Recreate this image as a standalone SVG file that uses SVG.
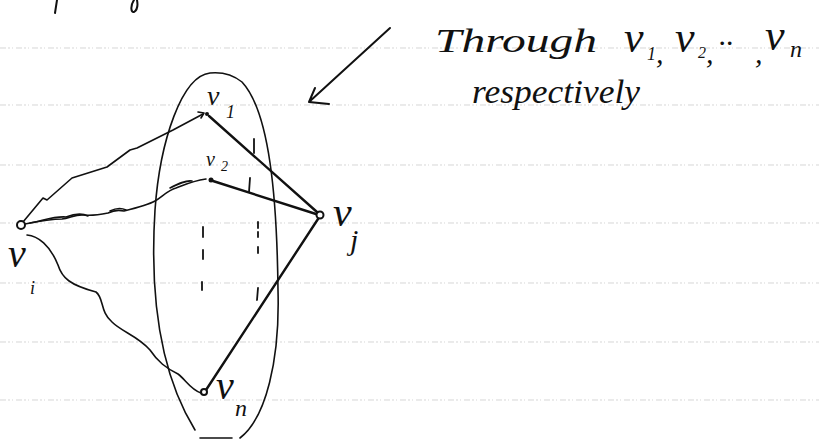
<svg xmlns="http://www.w3.org/2000/svg" width="819" height="441" viewBox="0 0 819 441">
<style>
.rule{stroke:#c4c4c4;stroke-width:0.7;stroke-dasharray:6 2 2 2 1 3;fill:none}
.ink{stroke:#111;fill:none;stroke-linecap:round;stroke-linejoin:round}
.edge{stroke-width:2.4}
.curve{stroke-width:1.6}
.hw{font-family:"Liberation Serif",serif;font-style:italic;fill:#111}
.node{fill:#fff;stroke:#111;stroke-width:2}
</style>
<rect width="819" height="441" fill="#fff"/>
<g id="rules">
<line class="rule" x1="0" y1="48" x2="819" y2="48"/>
<line class="rule" x1="0" y1="105" x2="819" y2="105"/>
<line class="rule" x1="0" y1="165" x2="819" y2="165"/>
<line class="rule" x1="0" y1="223" x2="819" y2="223"/>
<line class="rule" x1="0" y1="283" x2="819" y2="283"/>
<line class="rule" x1="0" y1="342" x2="819" y2="342"/>
<line class="rule" x1="0" y1="400" x2="819" y2="400"/>
</g>
<g id="fragments" class="ink" stroke-width="2">
<path d="M57,0 L55,13"/>
<path d="M134,0 C130,6 131,13 134,12 C137,10 138,5 137,0"/>
</g>
<g id="set-ellipse">
<path class="ink" stroke-width="1.6" d="M210,73 C182,76 160,140 155,210 C150,290 158,370 195,430 M200,438 L232,438 M240,438 C266,418 280,360 278,290 C277,200 270,112 242,82 C232,74 220,72 210,73"/>
</g>
<g id="connectors" class="ink">
<line class="edge" x1="209" y1="116" x2="317" y2="212"/>
<line class="edge" x1="213" y1="181" x2="316" y2="214"/>
<line class="edge" x1="318" y1="219" x2="206" y2="390"/>
<path class="curve" d="M23,222 L43,198 L47,200 L72,178 L107,167 L130,150 L137,148 L173,130 L203,114"/>
<path class="curve" d="M198,112 L204,113 L201,118"/>
<path class="curve" d="M25,224 C40,221 52,219 62,219 C70,218 76,214 84,215 C92,216 98,215 108,213 C114,210 120,210 124,211 C136,208 148,205 155,201 C162,197 168,190 176,188 C184,185 192,181 206,179"/>
<path class="curve" stroke-width="1" d="M30,223 C45,220 55,216 66,217 C74,214 82,213 88,216 M110,211 C116,208 122,208 126,210 M170,188 C178,184 186,180 192,181"/>
<path class="curve" d="M27,235 C38,236 50,245 58,265 C62,278 70,285 96,292 C104,298 100,312 112,322 C122,332 138,336 150,350 C158,362 166,368 178,374 C186,380 190,389 201,393"/>
<g stroke-width="1.8">
<line x1="203" y1="227" x2="203" y2="237"/>
<line x1="203" y1="250" x2="203" y2="259"/>
<line x1="202" y1="282" x2="202" y2="290"/>
<line x1="258" y1="222" x2="258" y2="228"/>
<line x1="258" y1="232" x2="258" y2="237"/>
<line x1="258" y1="247" x2="258" y2="253"/>
<line x1="258" y1="288" x2="257" y2="300"/>
<line x1="254" y1="139" x2="254" y2="153"/>
<line x1="250" y1="178" x2="249" y2="192"/>
</g>
</g>
<g id="node-vi">
<circle class="node" cx="21" cy="225" r="4"/>
<text class="hw" x="8" y="267" font-size="40">v</text>
<text class="hw" x="30" y="294" font-size="18">i</text>
</g>
<g id="node-v1">
<circle cx="207" cy="114" r="2" fill="#111"/>
<text class="hw" x="207" y="105" font-size="28">v</text>
<text class="hw" x="226" y="118" font-size="18">1</text>
</g>
<g id="node-v2">
<circle cx="211" cy="180" r="2.5" fill="#111"/>
<text class="hw" x="206" y="166" font-size="20">v</text>
<text class="hw" x="221" y="171" font-size="14">2</text>
</g>
<g id="node-vj">
<circle class="node" cx="320" cy="215" r="3.5"/>
<text class="hw" x="333" y="226" font-size="42">v</text>
<text class="hw" x="350" y="250" font-size="30">j</text>
</g>
<g id="node-vn">
<circle class="node" cx="204" cy="392" r="3"/>
<text class="hw" x="216" y="399" font-size="40">v</text>
<text class="hw" x="235" y="416" font-size="24">n</text>
</g>
<g id="annotation">
<path class="ink" stroke-width="2" d="M390,28 L309,102 M309,102 L315,88 M309,102 L329,104"/>
<text class="hw" x="435" y="52" font-size="34" textLength="162" lengthAdjust="spacingAndGlyphs">Through</text>
<text class="hw" x="624" y="52" font-size="44">v</text>
<text class="hw" x="647" y="60" font-size="18">1</text>
<text class="hw" x="656" y="63" font-size="30">,</text>
<text class="hw" x="675" y="52" font-size="44">v</text>
<text class="hw" x="698" y="58" font-size="16">2</text>
<text class="hw" x="706" y="63" font-size="30">,</text>
<text class="hw" x="718" y="53" font-size="30">··</text>
<text class="hw" x="755" y="63" font-size="30">,</text>
<text class="hw" x="765" y="50" font-size="44">v</text>
<text class="hw" x="790" y="57" font-size="24">n</text>
<text class="hw" x="472" y="103" font-size="34" textLength="168" lengthAdjust="spacingAndGlyphs">respectively</text>
</g>
</svg>
